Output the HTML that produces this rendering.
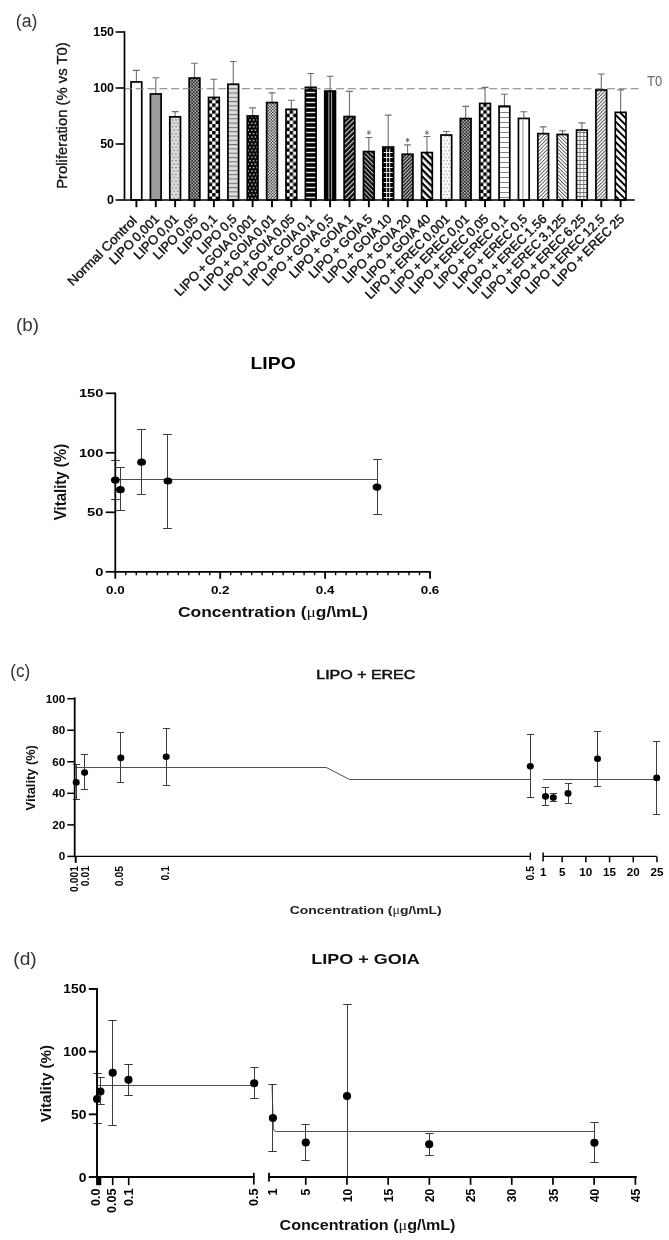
<!DOCTYPE html>
<html><head><meta charset="utf-8"><title>Figure</title>
<style>html,body{margin:0;padding:0;background:#fff;}body{width:669px;height:1240px;overflow:hidden;}svg{display:block;font-family:"Liberation Sans", sans-serif;filter:grayscale(1);}</style>
</head><body>
<svg width="669" height="1240" viewBox="0 0 669 1240">
<rect width="669" height="1240" fill="#fff"/>
<defs>
<pattern id="p2" x="-0.1" width="3.6" height="6.8" patternUnits="userSpaceOnUse"><rect width="3.6" height="6.8" fill="#dedede"/><rect x="0.3" y="0.9" width="1.3" height="1.3" fill="#6a6a6a"/><rect x="2.1" y="4.3" width="1.3" height="1.3" fill="#6a6a6a"/></pattern>
<pattern id="p3" width="3.2" height="3.2" patternUnits="userSpaceOnUse"><rect width="3.2" height="3.2" fill="#2a2a2a"/><rect x="0" y="0" width="1.5" height="1.5" fill="#bdbdbd"/><rect x="1.6" y="1.6" width="1.5" height="1.5" fill="#bdbdbd"/></pattern>
<pattern id="p4" x="-1.72" y="0" width="6.9" height="6.9" patternUnits="userSpaceOnUse"><rect width="6.9" height="6.9" fill="#fff"/><rect x="0" y="0" width="3.45" height="3.45" fill="#000"/><rect x="3.45" y="3.45" width="3.45" height="3.45" fill="#000"/></pattern>
<pattern id="p5" width="4.3" height="4.3" patternUnits="userSpaceOnUse"><rect width="4.3" height="4.3" fill="#dcdcdc"/><rect x="0" y="0" width="4.3" height="1" fill="#707070"/></pattern>
<pattern id="p6" width="3.6" height="6.8" patternUnits="userSpaceOnUse"><rect width="3.6" height="6.8" fill="#000"/><rect x="0.3" y="0.9" width="1.4" height="1.4" fill="#ececec"/><rect x="2.1" y="4.3" width="1.4" height="1.4" fill="#ececec"/></pattern>
<pattern id="p7" width="2.9" height="2.9" patternUnits="userSpaceOnUse"><rect width="2.9" height="2.9" fill="#222"/><rect x="0" y="0" width="1.6" height="1.6" fill="#f4f4f4"/><rect x="1.45" y="1.45" width="1.6" height="1.6" fill="#f4f4f4"/></pattern>
<pattern id="p9" width="5" height="5" patternUnits="userSpaceOnUse"><rect width="5" height="5" fill="#000"/><rect x="0" y="1.8" width="5" height="1.4" fill="#e8e8e8"/></pattern>
<pattern id="p11" width="3.6" height="3.6" patternUnits="userSpaceOnUse" patternTransform="rotate(-45)"><rect width="3.6" height="3.6" fill="#0a0a0a"/><rect x="0" y="0" width="3.6" height="1.15" fill="#cfcfcf"/></pattern>
<pattern id="p12" width="3.2" height="3.2" patternUnits="userSpaceOnUse" patternTransform="rotate(45)"><rect width="3.2" height="3.2" fill="#0a0a0a"/><rect x="0" y="0" width="3.2" height="1.05" fill="#c4c4c4"/></pattern>
<pattern id="p13" width="5" height="5" patternUnits="userSpaceOnUse"><rect width="5" height="5" fill="#000"/><rect x="0" y="2" width="5" height="1" fill="#f0f0f0"/></pattern>
<pattern id="p14" width="2.5" height="2.5" patternUnits="userSpaceOnUse" patternTransform="rotate(-45)"><rect width="2.5" height="2.5" fill="#111"/><rect x="0" y="0" width="2.5" height="1.15" fill="#cfcfcf"/></pattern>
<pattern id="p15" width="4.8" height="4.8" patternUnits="userSpaceOnUse" patternTransform="rotate(45)"><rect width="4.8" height="4.8" fill="#fff"/><rect x="0" y="0" width="4.8" height="2.3" fill="#000"/></pattern>
<pattern id="p16" width="3.6" height="6.8" patternUnits="userSpaceOnUse"><rect width="3.6" height="6.8" fill="#fff"/><rect x="0.3" y="0.9" width="1.2" height="1.2" fill="#808080"/><rect x="2.1" y="4.3" width="1.2" height="1.2" fill="#808080"/></pattern>
<pattern id="p19" width="5" height="5" patternUnits="userSpaceOnUse"><rect width="5" height="5" fill="#fff"/><rect x="0" y="2" width="5" height="0.9" fill="#777"/></pattern>
<pattern id="p21" width="2.55" height="2.55" patternUnits="userSpaceOnUse" patternTransform="rotate(-45)"><rect width="2.55" height="2.55" fill="#fff"/><rect x="0" y="0" width="2.55" height="0.85" fill="#555"/></pattern>
<pattern id="p22" width="2.55" height="2.55" patternUnits="userSpaceOnUse" patternTransform="rotate(45)"><rect width="2.55" height="2.55" fill="#fff"/><rect x="0" y="0" width="2.55" height="0.85" fill="#555"/></pattern>
<pattern id="p23" width="4" height="4" patternUnits="userSpaceOnUse"><rect width="4" height="4" fill="#fff"/><rect x="0" y="0" width="4" height="0.9" fill="#666"/></pattern>
<pattern id="p24" width="2.5" height="2.5" patternUnits="userSpaceOnUse" patternTransform="rotate(-45)"><rect width="2.5" height="2.5" fill="#fff"/><rect x="0" y="0" width="2.5" height="1.0" fill="#555"/></pattern>
<pattern id="p25" width="4.8" height="4.8" patternUnits="userSpaceOnUse" patternTransform="rotate(45)"><rect width="4.8" height="4.8" fill="#fff"/><rect x="0" y="0" width="4.8" height="1.9" fill="#000"/></pattern>
</defs>
<text transform="translate(15.80 26.60)" font-size="18" font-weight="normal" text-anchor="start" fill="#333" textLength="21.60" lengthAdjust="spacingAndGlyphs" >(a)</text>
<path d="M136.40 81.95V70.40M133.00 70.40H139.80" stroke="#6e6e6e" stroke-width="1.1" fill="none"/>
<g transform="translate(136.40 200.0)">
<rect x="-5.35" y="-118.05" width="10.7" height="118.05" fill="#fff" stroke="#000" stroke-width="1.7"/>
</g>
<path d="M136.40 200.0V207.2" stroke="#000" stroke-width="1.9"/>
<text transform="translate(137.70 221.50) rotate(-45)" font-size="12.9" font-weight="normal" text-anchor="end" fill="#111" textLength="92.00" lengthAdjust="spacingAndGlyphs" stroke="#111" stroke-width="0.4">Normal Control</text>
<path d="M155.77 93.95V77.80M152.37 77.80H159.17" stroke="#6e6e6e" stroke-width="1.1" fill="none"/>
<g transform="translate(155.77 200.0)">
<rect x="-5.35" y="-106.05" width="10.7" height="106.05" fill="#9b9b9b" stroke="#000" stroke-width="1.7"/>
</g>
<path d="M155.77 200.0V207.2" stroke="#000" stroke-width="1.9"/>
<text transform="translate(160.07 219.70) rotate(-45)" font-size="12.9" font-weight="normal" text-anchor="end" fill="#111" stroke="#111" stroke-width="0.4" word-spacing="-0.8">LIPO 0,001</text>
<path d="M175.14 116.85V111.60M171.74 111.60H178.54" stroke="#6e6e6e" stroke-width="1.1" fill="none"/>
<g transform="translate(175.14 200.0)">
<rect x="-5.35" y="-83.15" width="10.7" height="83.15" fill="url(#p2)" stroke="#000" stroke-width="1.7"/>
</g>
<path d="M175.14 200.0V207.2" stroke="#000" stroke-width="1.9"/>
<text transform="translate(179.44 219.70) rotate(-45)" font-size="12.9" font-weight="normal" text-anchor="end" fill="#111" stroke="#111" stroke-width="0.4" word-spacing="-0.8">LIPO 0,01</text>
<path d="M194.51 78.05V63.20M191.11 63.20H197.91" stroke="#6e6e6e" stroke-width="1.1" fill="none"/>
<g transform="translate(194.51 200.0)">
<rect x="-5.35" y="-121.95" width="10.7" height="121.95" fill="url(#p3)" stroke="#000" stroke-width="1.7"/>
</g>
<path d="M194.51 200.0V207.2" stroke="#000" stroke-width="1.9"/>
<text transform="translate(198.81 219.70) rotate(-45)" font-size="12.9" font-weight="normal" text-anchor="end" fill="#111" stroke="#111" stroke-width="0.4" word-spacing="-0.8">LIPO 0,05</text>
<path d="M213.88 97.45V79.30M210.48 79.30H217.28" stroke="#6e6e6e" stroke-width="1.1" fill="none"/>
<g transform="translate(213.88 200.0)">
<rect x="-5.35" y="-102.55" width="10.7" height="102.55" fill="url(#p4)" stroke="#000" stroke-width="1.7"/>
</g>
<path d="M213.88 200.0V207.2" stroke="#000" stroke-width="1.9"/>
<text transform="translate(218.18 219.70) rotate(-45)" font-size="12.9" font-weight="normal" text-anchor="end" fill="#111" stroke="#111" stroke-width="0.4" word-spacing="-0.8">LIPO 0,1</text>
<path d="M233.25 84.25V61.50M229.85 61.50H236.65" stroke="#6e6e6e" stroke-width="1.1" fill="none"/>
<g transform="translate(233.25 200.0)">
<rect x="-5.35" y="-115.75" width="10.7" height="115.75" fill="url(#p5)" stroke="#000" stroke-width="1.7"/>
</g>
<path d="M233.25 200.0V207.2" stroke="#000" stroke-width="1.9"/>
<text transform="translate(237.55 219.70) rotate(-45)" font-size="12.9" font-weight="normal" text-anchor="end" fill="#111" stroke="#111" stroke-width="0.4" word-spacing="-0.8">LIPO 0,5</text>
<path d="M252.62 115.95V107.90M249.22 107.90H256.02" stroke="#6e6e6e" stroke-width="1.1" fill="none"/>
<g transform="translate(252.62 200.0)">
<rect x="-5.35" y="-84.05" width="10.7" height="84.05" fill="url(#p6)" stroke="#000" stroke-width="1.7"/>
</g>
<path d="M252.62 200.0V207.2" stroke="#000" stroke-width="1.9"/>
<text transform="translate(256.92 219.70) rotate(-45)" font-size="12.9" font-weight="normal" text-anchor="end" fill="#111" stroke="#111" stroke-width="0.4" word-spacing="-0.8">LIPO + GOIA 0,001</text>
<path d="M271.99 102.55V92.90M268.59 92.90H275.39" stroke="#6e6e6e" stroke-width="1.1" fill="none"/>
<g transform="translate(271.99 200.0)">
<rect x="-5.35" y="-97.45" width="10.7" height="97.45" fill="url(#p7)" stroke="#000" stroke-width="1.7"/>
</g>
<path d="M271.99 200.0V207.2" stroke="#000" stroke-width="1.9"/>
<text transform="translate(276.29 219.70) rotate(-45)" font-size="12.9" font-weight="normal" text-anchor="end" fill="#111" stroke="#111" stroke-width="0.4" word-spacing="-0.8">LIPO + GOIA 0,01</text>
<path d="M291.36 109.35V100.30M287.96 100.30H294.76" stroke="#6e6e6e" stroke-width="1.1" fill="none"/>
<g transform="translate(291.36 200.0)">
<rect x="-5.35" y="-90.65" width="10.7" height="90.65" fill="url(#p4)" stroke="#000" stroke-width="1.7"/>
</g>
<path d="M291.36 200.0V207.2" stroke="#000" stroke-width="1.9"/>
<text transform="translate(295.66 219.70) rotate(-45)" font-size="12.9" font-weight="normal" text-anchor="end" fill="#111" stroke="#111" stroke-width="0.4" word-spacing="-0.8">LIPO + GOIA 0,05</text>
<path d="M310.73 87.35V73.50M307.33 73.50H314.13" stroke="#6e6e6e" stroke-width="1.1" fill="none"/>
<g transform="translate(310.73 200.0)">
<rect x="-5.35" y="-112.65" width="10.7" height="112.65" fill="url(#p9)" stroke="#000" stroke-width="1.7"/>
</g>
<path d="M310.73 200.0V207.2" stroke="#000" stroke-width="1.9"/>
<text transform="translate(315.03 219.70) rotate(-45)" font-size="12.9" font-weight="normal" text-anchor="end" fill="#111" stroke="#111" stroke-width="0.4" word-spacing="-0.8">LIPO + GOIA 0,1</text>
<path d="M330.10 91.05V76.20M326.70 76.20H333.50" stroke="#6e6e6e" stroke-width="1.1" fill="none"/>
<g transform="translate(330.10 200.0)">
<rect x="-5.35" y="-108.95" width="10.7" height="108.95" fill="#000" stroke="#000" stroke-width="1.7"/>
<path d="M-1.2 -107.95V0M1.5 -107.95V0" stroke="#c4c4c4" stroke-width="0.9" fill="none"/>
</g>
<path d="M330.10 200.0V207.2" stroke="#000" stroke-width="1.9"/>
<text transform="translate(334.40 219.70) rotate(-45)" font-size="12.9" font-weight="normal" text-anchor="end" fill="#111" stroke="#111" stroke-width="0.4" word-spacing="-0.8">LIPO + GOIA 0,5</text>
<path d="M349.47 116.55V91.40M346.07 91.40H352.87" stroke="#6e6e6e" stroke-width="1.1" fill="none"/>
<g transform="translate(349.47 200.0)">
<rect x="-5.35" y="-83.45" width="10.7" height="83.45" fill="url(#p11)" stroke="#000" stroke-width="1.7"/>
</g>
<path d="M349.47 200.0V207.2" stroke="#000" stroke-width="1.9"/>
<text transform="translate(353.77 219.70) rotate(-45)" font-size="12.9" font-weight="normal" text-anchor="end" fill="#111" stroke="#111" stroke-width="0.4" word-spacing="-0.8">LIPO + GOIA 1</text>
<path d="M368.84 151.55V137.50M365.44 137.50H372.24" stroke="#6e6e6e" stroke-width="1.1" fill="none"/>
<g transform="translate(368.84 200.0)">
<rect x="-5.35" y="-48.45" width="10.7" height="48.45" fill="url(#p12)" stroke="#000" stroke-width="1.7"/>
</g>
<path d="M368.84 200.0V207.2" stroke="#000" stroke-width="1.9"/>
<text transform="translate(373.14 219.70) rotate(-45)" font-size="12.9" font-weight="normal" text-anchor="end" fill="#111" stroke="#111" stroke-width="0.4" word-spacing="-0.8">LIPO + GOIA 5</text>
<path d="M388.21 147.05V115.10M384.81 115.10H391.61" stroke="#6e6e6e" stroke-width="1.1" fill="none"/>
<g transform="translate(388.21 200.0)">
<rect x="-5.35" y="-52.95" width="10.7" height="52.95" fill="url(#p13)" stroke="#000" stroke-width="1.7"/>
<path d="M-1.5 -51.45V0M1.5 -51.45V0" stroke="#f0f0f0" stroke-width="1" fill="none"/>
</g>
<path d="M388.21 200.0V207.2" stroke="#000" stroke-width="1.9"/>
<text transform="translate(392.51 219.70) rotate(-45)" font-size="12.9" font-weight="normal" text-anchor="end" fill="#111" stroke="#111" stroke-width="0.4" word-spacing="-0.8">LIPO + GOIA 10</text>
<path d="M407.58 154.25V144.90M404.18 144.90H410.98" stroke="#6e6e6e" stroke-width="1.1" fill="none"/>
<g transform="translate(407.58 200.0)">
<rect x="-5.35" y="-45.75" width="10.7" height="45.75" fill="url(#p14)" stroke="#000" stroke-width="1.7"/>
</g>
<path d="M407.58 200.0V207.2" stroke="#000" stroke-width="1.9"/>
<text transform="translate(411.88 219.70) rotate(-45)" font-size="12.9" font-weight="normal" text-anchor="end" fill="#111" stroke="#111" stroke-width="0.4" word-spacing="-0.8">LIPO + GOIA 20</text>
<path d="M426.95 152.55V136.50M423.55 136.50H430.35" stroke="#6e6e6e" stroke-width="1.1" fill="none"/>
<g transform="translate(426.95 200.0)">
<rect x="-5.35" y="-47.45" width="10.7" height="47.45" fill="url(#p15)" stroke="#000" stroke-width="1.7"/>
</g>
<path d="M426.95 200.0V207.2" stroke="#000" stroke-width="1.9"/>
<text transform="translate(431.25 219.70) rotate(-45)" font-size="12.9" font-weight="normal" text-anchor="end" fill="#111" stroke="#111" stroke-width="0.4" word-spacing="-0.8">LIPO + GOIA 40</text>
<path d="M446.32 135.05V131.50M442.92 131.50H449.72" stroke="#6e6e6e" stroke-width="1.1" fill="none"/>
<g transform="translate(446.32 200.0)">
<rect x="-5.35" y="-64.95" width="10.7" height="64.95" fill="url(#p16)" stroke="#000" stroke-width="1.7"/>
</g>
<path d="M446.32 200.0V207.2" stroke="#000" stroke-width="1.9"/>
<text transform="translate(450.62 219.70) rotate(-45)" font-size="12.9" font-weight="normal" text-anchor="end" fill="#111" stroke="#111" stroke-width="0.4" word-spacing="-0.8">LIPO + EREC 0,001</text>
<path d="M465.69 118.55V106.40M462.29 106.40H469.09" stroke="#6e6e6e" stroke-width="1.1" fill="none"/>
<g transform="translate(465.69 200.0)">
<rect x="-5.35" y="-81.45" width="10.7" height="81.45" fill="url(#p3)" stroke="#000" stroke-width="1.7"/>
</g>
<path d="M465.69 200.0V207.2" stroke="#000" stroke-width="1.9"/>
<text transform="translate(469.99 219.70) rotate(-45)" font-size="12.9" font-weight="normal" text-anchor="end" fill="#111" stroke="#111" stroke-width="0.4" word-spacing="-0.8">LIPO + EREC 0,01</text>
<path d="M485.06 103.45V87.40M481.66 87.40H488.46" stroke="#6e6e6e" stroke-width="1.1" fill="none"/>
<g transform="translate(485.06 200.0)">
<rect x="-5.35" y="-96.55" width="10.7" height="96.55" fill="url(#p4)" stroke="#000" stroke-width="1.7"/>
</g>
<path d="M485.06 200.0V207.2" stroke="#000" stroke-width="1.9"/>
<text transform="translate(489.36 219.70) rotate(-45)" font-size="12.9" font-weight="normal" text-anchor="end" fill="#111" stroke="#111" stroke-width="0.4" word-spacing="-0.8">LIPO + EREC 0,05</text>
<path d="M504.43 106.15V94.30M501.03 94.30H507.83" stroke="#6e6e6e" stroke-width="1.1" fill="none"/>
<g transform="translate(504.43 200.0)">
<rect x="-5.35" y="-93.85" width="10.7" height="93.85" fill="url(#p19)" stroke="#000" stroke-width="1.7"/>
</g>
<path d="M504.43 200.0V207.2" stroke="#000" stroke-width="1.9"/>
<text transform="translate(508.73 219.70) rotate(-45)" font-size="12.9" font-weight="normal" text-anchor="end" fill="#111" stroke="#111" stroke-width="0.4" word-spacing="-0.8">LIPO + EREC 0,1</text>
<path d="M523.80 118.45V111.70M520.40 111.70H527.20" stroke="#6e6e6e" stroke-width="1.1" fill="none"/>
<g transform="translate(523.80 200.0)">
<rect x="-5.35" y="-81.55" width="10.7" height="81.55" fill="#fff" stroke="#000" stroke-width="1.7"/>
<path d="M-0.9 -81.55V0" stroke="#888" stroke-width="0.9" fill="none"/>
</g>
<path d="M523.80 200.0V207.2" stroke="#000" stroke-width="1.9"/>
<text transform="translate(528.10 219.70) rotate(-45)" font-size="12.9" font-weight="normal" text-anchor="end" fill="#111" stroke="#111" stroke-width="0.4" word-spacing="-0.8">LIPO + EREC 0,5</text>
<path d="M543.17 133.65V126.90M539.77 126.90H546.57" stroke="#6e6e6e" stroke-width="1.1" fill="none"/>
<g transform="translate(543.17 200.0)">
<rect x="-5.35" y="-66.35" width="10.7" height="66.35" fill="url(#p21)" stroke="#000" stroke-width="1.7"/>
</g>
<path d="M543.17 200.0V207.2" stroke="#000" stroke-width="1.9"/>
<text transform="translate(547.47 219.70) rotate(-45)" font-size="12.9" font-weight="normal" text-anchor="end" fill="#111" stroke="#111" stroke-width="0.4" word-spacing="-0.8">LIPO + EREC 1.56</text>
<path d="M562.54 134.45V130.80M559.14 130.80H565.94" stroke="#6e6e6e" stroke-width="1.1" fill="none"/>
<g transform="translate(562.54 200.0)">
<rect x="-5.35" y="-65.55" width="10.7" height="65.55" fill="url(#p22)" stroke="#000" stroke-width="1.7"/>
</g>
<path d="M562.54 200.0V207.2" stroke="#000" stroke-width="1.9"/>
<text transform="translate(566.84 219.70) rotate(-45)" font-size="12.9" font-weight="normal" text-anchor="end" fill="#111" stroke="#111" stroke-width="0.4" word-spacing="-0.8">LIPO + EREC 3.125</text>
<path d="M581.91 130.05V122.90M578.51 122.90H585.31" stroke="#6e6e6e" stroke-width="1.1" fill="none"/>
<g transform="translate(581.91 200.0)">
<rect x="-5.35" y="-69.95" width="10.7" height="69.95" fill="url(#p23)" stroke="#000" stroke-width="1.7"/>
<path d="M-1.9 -69.95V0M1.9 -69.95V0" stroke="#666" stroke-width="0.9" fill="none"/>
</g>
<path d="M581.91 200.0V207.2" stroke="#000" stroke-width="1.9"/>
<text transform="translate(586.21 219.70) rotate(-45)" font-size="12.9" font-weight="normal" text-anchor="end" fill="#111" stroke="#111" stroke-width="0.4" word-spacing="-0.8">LIPO + EREC 6.25</text>
<path d="M601.28 89.95V74.00M597.88 74.00H604.68" stroke="#6e6e6e" stroke-width="1.1" fill="none"/>
<g transform="translate(601.28 200.0)">
<rect x="-5.35" y="-110.05" width="10.7" height="110.05" fill="url(#p24)" stroke="#000" stroke-width="1.7"/>
</g>
<path d="M601.28 200.0V207.2" stroke="#000" stroke-width="1.9"/>
<text transform="translate(605.58 219.70) rotate(-45)" font-size="12.9" font-weight="normal" text-anchor="end" fill="#111" stroke="#111" stroke-width="0.4" word-spacing="-0.8">LIPO + EREC 12.5</text>
<path d="M620.65 112.35V89.90M617.25 89.90H624.05" stroke="#6e6e6e" stroke-width="1.1" fill="none"/>
<g transform="translate(620.65 200.0)">
<rect x="-5.35" y="-87.65" width="10.7" height="87.65" fill="url(#p25)" stroke="#000" stroke-width="1.7"/>
</g>
<path d="M620.65 200.0V207.2" stroke="#000" stroke-width="1.9"/>
<text transform="translate(624.95 219.70) rotate(-45)" font-size="12.9" font-weight="normal" text-anchor="end" fill="#111" stroke="#111" stroke-width="0.4" word-spacing="-0.8">LIPO + EREC 25</text>
<path d="M368.84 130.40L368.84 134.80M370.75 131.50L366.93 133.70M370.75 133.70L366.93 131.50" stroke="#555" stroke-width="0.8" fill="none"/>
<path d="M407.58 138.00L407.58 142.40M409.49 139.10L405.67 141.30M409.49 141.30L405.67 139.10" stroke="#555" stroke-width="0.8" fill="none"/>
<path d="M426.95 130.40L426.95 134.80M428.86 131.50L425.04 133.70M428.86 133.70L425.04 131.50" stroke="#555" stroke-width="0.8" fill="none"/>
<path d="M124.04 88.75H638.6" stroke="#7d7d7d" stroke-width="1.2" stroke-dasharray="8 3.78" fill="none"/>
<text transform="translate(647.00 86.30)" font-size="14" font-weight="normal" text-anchor="start" fill="#666" textLength="15.20" lengthAdjust="spacingAndGlyphs" >T0</text>
<path d="M124.5 31.2V200.0M123.7 200.0H634.8" stroke="#000" stroke-width="1.7" fill="none"/>
<path d="M115.6 32H124.5" stroke="#000" stroke-width="1.6"/>
<text transform="translate(114.00 36.30)" font-size="12.4" font-weight="bold" text-anchor="end" fill="#000" >150</text>
<path d="M115.6 88H124.5" stroke="#000" stroke-width="1.6"/>
<text transform="translate(114.00 92.30)" font-size="12.4" font-weight="bold" text-anchor="end" fill="#000" >100</text>
<path d="M115.6 144H124.5" stroke="#000" stroke-width="1.6"/>
<text transform="translate(114.00 148.30)" font-size="12.4" font-weight="bold" text-anchor="end" fill="#000" >50</text>
<path d="M115.6 200H124.5" stroke="#000" stroke-width="1.6"/>
<text transform="translate(114.00 204.30)" font-size="12.4" font-weight="bold" text-anchor="end" fill="#000" >0</text>
<text transform="translate(67.00 115.50) rotate(-90)" font-size="14.2" font-weight="normal" text-anchor="middle" fill="#111" textLength="146.60" lengthAdjust="spacingAndGlyphs" stroke="#111" stroke-width="0.3">Proliferation (% vs T0)</text>
<text transform="translate(15.90 330.60)" font-size="18" font-weight="normal" text-anchor="start" fill="#333" textLength="23.00" lengthAdjust="spacingAndGlyphs" >(b)</text>
<text transform="translate(273.10 369.10)" font-size="16.3" font-weight="bold" text-anchor="middle" fill="#000" textLength="45.20" lengthAdjust="spacingAndGlyphs" >LIPO</text>
<path d="M115.3 479.5H377.3" stroke="#3c3c3c" stroke-width="0.9" fill="none"/>
<path d="M115.50 460.50V499.50M111.10 460.50H119.90M111.10 499.50H119.90" stroke="#3c3c3c" stroke-width="1.0" fill="none"/>
<ellipse cx="115.30" cy="480.10" rx="4.4" ry="3.6" fill="#000"/>
<path d="M120.50 467.50V510.50M116.10 467.50H124.90M116.10 510.50H124.90" stroke="#3c3c3c" stroke-width="1.0" fill="none"/>
<ellipse cx="120.40" cy="489.70" rx="4.4" ry="3.6" fill="#000"/>
<path d="M141.50 429.50V494.50M137.10 429.50H145.90M137.10 494.50H145.90" stroke="#3c3c3c" stroke-width="1.0" fill="none"/>
<ellipse cx="141.60" cy="462.20" rx="4.4" ry="3.6" fill="#000"/>
<path d="M167.50 434.50V528.50M163.10 434.50H171.90M163.10 528.50H171.90" stroke="#3c3c3c" stroke-width="1.0" fill="none"/>
<ellipse cx="167.90" cy="481.00" rx="4.4" ry="3.6" fill="#000"/>
<path d="M377.50 459.50V514.50M373.10 459.50H381.90M373.10 514.50H381.90" stroke="#3c3c3c" stroke-width="1.0" fill="none"/>
<ellipse cx="377.00" cy="487.10" rx="4.4" ry="3.6" fill="#000"/>
<path d="M115.3 392.4V571.8M114.39999999999999 571.8H430.8" stroke="#000" stroke-width="1.8" fill="none"/>
<path d="M105.7 571.80H115.3" stroke="#000" stroke-width="1.7"/>
<text transform="translate(103.40 575.80) scale(1.3 1)" font-size="11.3" font-weight="bold" text-anchor="end" fill="#000" >0</text>
<path d="M105.7 512.30H115.3" stroke="#000" stroke-width="1.7"/>
<text transform="translate(103.40 516.30) scale(1.3 1)" font-size="11.3" font-weight="bold" text-anchor="end" fill="#000" >50</text>
<path d="M105.7 452.80H115.3" stroke="#000" stroke-width="1.7"/>
<text transform="translate(103.40 456.80) scale(1.3 1)" font-size="11.3" font-weight="bold" text-anchor="end" fill="#000" >100</text>
<path d="M105.7 393.30H115.3" stroke="#000" stroke-width="1.7"/>
<text transform="translate(103.40 397.30) scale(1.3 1)" font-size="11.3" font-weight="bold" text-anchor="end" fill="#000" >150</text>
<path d="M115.30 571.8V578.8" stroke="#000" stroke-width="1.8"/>
<text transform="translate(115.30 594.20) scale(1.22 1)" font-size="11" font-weight="bold" text-anchor="middle" fill="#000" >0.0</text>
<path d="M125.79 571.8V575.2" stroke="#000" stroke-width="1.4"/>
<path d="M136.28 571.8V575.2" stroke="#000" stroke-width="1.4"/>
<path d="M146.77 571.8V575.2" stroke="#000" stroke-width="1.4"/>
<path d="M157.26 571.8V575.2" stroke="#000" stroke-width="1.4"/>
<path d="M167.75 571.8V575.2" stroke="#000" stroke-width="1.4"/>
<path d="M178.24 571.8V575.2" stroke="#000" stroke-width="1.4"/>
<path d="M188.73 571.8V575.2" stroke="#000" stroke-width="1.4"/>
<path d="M199.22 571.8V575.2" stroke="#000" stroke-width="1.4"/>
<path d="M209.71 571.8V575.2" stroke="#000" stroke-width="1.4"/>
<path d="M220.20 571.8V578.8" stroke="#000" stroke-width="1.8"/>
<text transform="translate(220.20 594.20) scale(1.22 1)" font-size="11" font-weight="bold" text-anchor="middle" fill="#000" >0.2</text>
<path d="M230.69 571.8V575.2" stroke="#000" stroke-width="1.4"/>
<path d="M241.18 571.8V575.2" stroke="#000" stroke-width="1.4"/>
<path d="M251.67 571.8V575.2" stroke="#000" stroke-width="1.4"/>
<path d="M262.16 571.8V575.2" stroke="#000" stroke-width="1.4"/>
<path d="M272.65 571.8V575.2" stroke="#000" stroke-width="1.4"/>
<path d="M283.14 571.8V575.2" stroke="#000" stroke-width="1.4"/>
<path d="M293.63 571.8V575.2" stroke="#000" stroke-width="1.4"/>
<path d="M304.12 571.8V575.2" stroke="#000" stroke-width="1.4"/>
<path d="M314.61 571.8V575.2" stroke="#000" stroke-width="1.4"/>
<path d="M325.10 571.8V578.8" stroke="#000" stroke-width="1.8"/>
<text transform="translate(325.10 594.20) scale(1.22 1)" font-size="11" font-weight="bold" text-anchor="middle" fill="#000" >0.4</text>
<path d="M335.59 571.8V575.2" stroke="#000" stroke-width="1.4"/>
<path d="M346.08 571.8V575.2" stroke="#000" stroke-width="1.4"/>
<path d="M356.57 571.8V575.2" stroke="#000" stroke-width="1.4"/>
<path d="M367.06 571.8V575.2" stroke="#000" stroke-width="1.4"/>
<path d="M377.55 571.8V575.2" stroke="#000" stroke-width="1.4"/>
<path d="M388.04 571.8V575.2" stroke="#000" stroke-width="1.4"/>
<path d="M398.53 571.8V575.2" stroke="#000" stroke-width="1.4"/>
<path d="M409.02 571.8V575.2" stroke="#000" stroke-width="1.4"/>
<path d="M419.51 571.8V575.2" stroke="#000" stroke-width="1.4"/>
<path d="M430.00 571.8V578.8" stroke="#000" stroke-width="1.8"/>
<text transform="translate(430.00 594.20) scale(1.22 1)" font-size="11" font-weight="bold" text-anchor="middle" fill="#000" >0.6</text>
<text transform="translate(273.00 617.00)" font-size="14" font-weight="bold" text-anchor="middle" fill="#111" textLength="190.00" lengthAdjust="spacingAndGlyphs" >Concentration (<tspan font-family='"Liberation Serif", serif' font-weight="normal">μ</tspan>g/\mL)</text>
<text transform="translate(66.20 482.00) rotate(-90) scale(1.0 1.13)" font-size="15" font-weight="bold" text-anchor="middle" fill="#111" >Vitality (%)</text>
<text transform="translate(10.30 676.80)" font-size="18" font-weight="normal" text-anchor="start" fill="#333" textLength="20.00" lengthAdjust="spacingAndGlyphs" >(c)</text>
<text transform="translate(365.80 678.50)" font-size="13.6" font-weight="normal" text-anchor="middle" fill="#111" textLength="99.00" lengthAdjust="spacingAndGlyphs" stroke="#111" stroke-width="0.55">LIPO + EREC</text>
<path d="M75.3 767.5H326.3L349.6 779.5H530.3M543.1 779.5H656.7" stroke="#3c3c3c" stroke-width="0.9" fill="none"/>
<path d="M76.50 764.50V799.50M72.90 764.50H80.10M72.90 799.50H80.10" stroke="#3c3c3c" stroke-width="1.0" fill="none"/>
<ellipse cx="76.20" cy="782.40" rx="3.5" ry="3.3" fill="#000"/>
<path d="M84.50 754.50V789.50M80.90 754.50H88.10M80.90 789.50H88.10" stroke="#3c3c3c" stroke-width="1.0" fill="none"/>
<ellipse cx="84.60" cy="772.60" rx="3.5" ry="3.3" fill="#000"/>
<path d="M120.50 732.50V782.50M116.90 732.50H124.10M116.90 782.50H124.10" stroke="#3c3c3c" stroke-width="1.0" fill="none"/>
<ellipse cx="120.80" cy="757.90" rx="3.5" ry="3.3" fill="#000"/>
<path d="M166.50 728.50V785.50M162.90 728.50H170.10M162.90 785.50H170.10" stroke="#3c3c3c" stroke-width="1.0" fill="none"/>
<ellipse cx="166.20" cy="756.70" rx="3.5" ry="3.3" fill="#000"/>
<path d="M530.50 734.50V797.50M526.90 734.50H534.10M526.90 797.50H534.10" stroke="#3c3c3c" stroke-width="1.0" fill="none"/>
<ellipse cx="530.30" cy="766.20" rx="3.5" ry="3.3" fill="#000"/>
<path d="M545.50 787.50V805.50M541.90 787.50H549.10M541.90 805.50H549.10" stroke="#3c3c3c" stroke-width="1.0" fill="none"/>
<ellipse cx="545.50" cy="796.40" rx="3.5" ry="3.3" fill="#000"/>
<path d="M553.50 793.50V801.50M549.90 793.50H557.10M549.90 801.50H557.10" stroke="#3c3c3c" stroke-width="1.0" fill="none"/>
<ellipse cx="553.30" cy="797.60" rx="3.5" ry="3.3" fill="#000"/>
<path d="M568.50 783.50V803.50M564.90 783.50H572.10M564.90 803.50H572.10" stroke="#3c3c3c" stroke-width="1.0" fill="none"/>
<ellipse cx="568.00" cy="793.40" rx="3.5" ry="3.3" fill="#000"/>
<path d="M597.50 731.50V786.50M593.90 731.50H601.10M593.90 786.50H601.10" stroke="#3c3c3c" stroke-width="1.0" fill="none"/>
<ellipse cx="597.50" cy="758.80" rx="3.5" ry="3.3" fill="#000"/>
<path d="M656.50 741.50V814.50M652.90 741.50H660.10M652.90 814.50H660.10" stroke="#3c3c3c" stroke-width="1.0" fill="none"/>
<ellipse cx="656.70" cy="777.90" rx="3.5" ry="3.3" fill="#000"/>
<path d="M74.7 697.4V856.4" stroke="#000" stroke-width="1.8" fill="none"/>
<path d="M73.8 856.4H530.3M543.1 856.4H656.7" stroke="#000" stroke-width="1.2" fill="none"/>
<path d="M67.3 856.40H74.7" stroke="#000" stroke-width="1.5"/>
<text transform="translate(65.20 860.20) scale(1.08 1)" font-size="10.8" font-weight="bold" text-anchor="end" fill="#000" >0</text>
<path d="M67.3 824.86H74.7" stroke="#000" stroke-width="1.5"/>
<text transform="translate(65.20 828.66) scale(1.08 1)" font-size="10.8" font-weight="bold" text-anchor="end" fill="#000" >20</text>
<path d="M67.3 793.32H74.7" stroke="#000" stroke-width="1.5"/>
<text transform="translate(65.20 797.12) scale(1.08 1)" font-size="10.8" font-weight="bold" text-anchor="end" fill="#000" >40</text>
<path d="M67.3 761.78H74.7" stroke="#000" stroke-width="1.5"/>
<text transform="translate(65.20 765.58) scale(1.08 1)" font-size="10.8" font-weight="bold" text-anchor="end" fill="#000" >60</text>
<path d="M67.3 730.24H74.7" stroke="#000" stroke-width="1.5"/>
<text transform="translate(65.20 734.04) scale(1.08 1)" font-size="10.8" font-weight="bold" text-anchor="end" fill="#000" >80</text>
<path d="M67.3 698.70H74.7" stroke="#000" stroke-width="1.5"/>
<text transform="translate(65.20 702.50) scale(1.08 1)" font-size="10.8" font-weight="bold" text-anchor="end" fill="#000" >100</text>
<path d="M75.7 856.4V862.8" stroke="#000" stroke-width="2"/>
<path d="M530.3 852.4V860" stroke="#000" stroke-width="1.3"/>
<path d="M543.1 852.4V861.6" stroke="#000" stroke-width="1.5"/>
<path d="M562.16 856.4V862.3" stroke="#000" stroke-width="1.5"/>
<path d="M585.86 856.4V862.3" stroke="#000" stroke-width="1.5"/>
<path d="M609.56 856.4V862.3" stroke="#000" stroke-width="1.5"/>
<path d="M633.26 856.4V862.3" stroke="#000" stroke-width="1.5"/>
<path d="M656.96 856.4V862.3" stroke="#000" stroke-width="1.5"/>
<text transform="translate(543.20 876.40) scale(1.08 1)" font-size="10.8" font-weight="bold" text-anchor="middle" fill="#000" >1</text>
<text transform="translate(562.16 876.40) scale(1.08 1)" font-size="10.8" font-weight="bold" text-anchor="middle" fill="#000" >5</text>
<text transform="translate(585.86 876.40) scale(1.08 1)" font-size="10.8" font-weight="bold" text-anchor="middle" fill="#000" >10</text>
<text transform="translate(609.56 876.40) scale(1.08 1)" font-size="10.8" font-weight="bold" text-anchor="middle" fill="#000" >15</text>
<text transform="translate(633.26 876.40) scale(1.08 1)" font-size="10.8" font-weight="bold" text-anchor="middle" fill="#000" >20</text>
<text transform="translate(656.96 876.40) scale(1.08 1)" font-size="10.8" font-weight="bold" text-anchor="middle" fill="#000" >25</text>
<text transform="translate(78.20 866.00) rotate(-90)" font-size="10.4" font-weight="bold" text-anchor="end" fill="#000" >0.001</text>
<text transform="translate(88.70 866.00) rotate(-90)" font-size="10.4" font-weight="bold" text-anchor="end" fill="#000" >0.01</text>
<text transform="translate(123.10 866.00) rotate(-90)" font-size="10.4" font-weight="bold" text-anchor="end" fill="#000" >0.05</text>
<text transform="translate(169.40 866.00) rotate(-90)" font-size="10.4" font-weight="bold" text-anchor="end" fill="#000" >0.1</text>
<text transform="translate(533.80 866.00) rotate(-90)" font-size="10.4" font-weight="bold" text-anchor="end" fill="#000" >0.5</text>
<text transform="translate(365.70 913.60)" font-size="11.8" font-weight="bold" text-anchor="middle" fill="#222" textLength="152.00" lengthAdjust="spacingAndGlyphs" >Concentration (<tspan font-family='"Liberation Serif", serif' font-weight="normal">μ</tspan>g/\mL)</text>
<text transform="translate(35.20 777.80) rotate(-90)" font-size="12.8" font-weight="bold" text-anchor="middle" fill="#111" >Vitality (%)</text>
<text transform="translate(13.30 965.20)" font-size="18" font-weight="normal" text-anchor="start" fill="#333" textLength="23.40" lengthAdjust="spacingAndGlyphs" >(d)</text>
<text transform="translate(365.60 964.00)" font-size="15" font-weight="bold" text-anchor="middle" fill="#111" textLength="108.50" lengthAdjust="spacingAndGlyphs" >LIPO + GOIA</text>
<path d="M97.0 1085.5H254.3M272.0 1084.5L273.4 1128.5Q273.6 1131.5 276.2 1131.5H594.4" stroke="#3c3c3c" stroke-width="0.9" fill="none"/>
<path d="M97.50 1073.50V1123.50M93.30 1073.50H101.70M93.30 1123.50H101.70" stroke="#3c3c3c" stroke-width="1.0" fill="none"/>
<ellipse cx="97.10" cy="1098.90" rx="4.1" ry="4.0" fill="#000"/>
<path d="M100.50 1077.50V1104.50M96.30 1077.50H104.70M96.30 1104.50H104.70" stroke="#3c3c3c" stroke-width="1.0" fill="none"/>
<ellipse cx="100.40" cy="1091.40" rx="4.1" ry="4.0" fill="#000"/>
<path d="M112.50 1020.50V1125.50M108.30 1020.50H116.70M108.30 1125.50H116.70" stroke="#3c3c3c" stroke-width="1.0" fill="none"/>
<ellipse cx="112.70" cy="1072.80" rx="4.1" ry="4.0" fill="#000"/>
<path d="M128.50 1064.50V1095.50M124.30 1064.50H132.70M124.30 1095.50H132.70" stroke="#3c3c3c" stroke-width="1.0" fill="none"/>
<ellipse cx="128.50" cy="1079.80" rx="4.1" ry="4.0" fill="#000"/>
<path d="M254.50 1067.50V1098.50M250.30 1067.50H258.70M250.30 1098.50H258.70" stroke="#3c3c3c" stroke-width="1.0" fill="none"/>
<ellipse cx="254.20" cy="1083.20" rx="4.1" ry="4.0" fill="#000"/>
<path d="M272.50 1084.50V1151.50M268.30 1084.50H276.70M268.30 1151.50H276.70" stroke="#3c3c3c" stroke-width="1.0" fill="none"/>
<ellipse cx="272.90" cy="1118.00" rx="4.1" ry="4.0" fill="#000"/>
<path d="M305.50 1124.50V1160.50M301.30 1124.50H309.70M301.30 1160.50H309.70" stroke="#3c3c3c" stroke-width="1.0" fill="none"/>
<ellipse cx="305.80" cy="1142.50" rx="4.1" ry="4.0" fill="#000"/>
<path d="M347.50 1004.50V1177.50M343.30 1004.50H351.70M343.30 1177.50H351.70" stroke="#3c3c3c" stroke-width="1.0" fill="none"/>
<ellipse cx="347.00" cy="1095.90" rx="4.1" ry="4.0" fill="#000"/>
<path d="M429.50 1133.50V1155.50M425.30 1133.50H433.70M425.30 1155.50H433.70" stroke="#3c3c3c" stroke-width="1.0" fill="none"/>
<ellipse cx="429.20" cy="1144.30" rx="4.1" ry="4.0" fill="#000"/>
<path d="M594.50 1122.50V1162.50M590.30 1122.50H598.70M590.30 1162.50H598.70" stroke="#3c3c3c" stroke-width="1.0" fill="none"/>
<ellipse cx="594.40" cy="1142.70" rx="4.1" ry="4.0" fill="#000"/>
<path d="M97.0 987.9V1177.0" stroke="#000" stroke-width="1.9" fill="none"/>
<path d="M96.1 1177.0H254.5M268.2 1177.0H636.8" stroke="#000" stroke-width="2.1" fill="none"/>
<path d="M88.8 1177.00H97.0" stroke="#000" stroke-width="1.9"/>
<text transform="translate(86.40 1181.50) scale(1.1 1)" font-size="12.6" font-weight="bold" text-anchor="end" fill="#000" >0</text>
<path d="M88.8 1114.33H97.0" stroke="#000" stroke-width="1.9"/>
<text transform="translate(86.40 1118.83) scale(1.1 1)" font-size="12.6" font-weight="bold" text-anchor="end" fill="#000" >50</text>
<path d="M88.8 1051.65H97.0" stroke="#000" stroke-width="1.9"/>
<text transform="translate(86.40 1056.15) scale(1.1 1)" font-size="12.6" font-weight="bold" text-anchor="end" fill="#000" >100</text>
<path d="M88.8 988.98H97.0" stroke="#000" stroke-width="1.9"/>
<text transform="translate(86.40 993.48) scale(1.1 1)" font-size="12.6" font-weight="bold" text-anchor="end" fill="#000" >150</text>
<rect x="96.1" y="1177.0" width="5.2" height="8.2" fill="#000"/>
<path d="M112.7 1177.0V1185.2" stroke="#000" stroke-width="1.6"/>
<path d="M128.7 1177.0V1185.2" stroke="#000" stroke-width="1.6"/>
<path d="M253.8 1172.8V1184.6" stroke="#000" stroke-width="1.7"/>
<path d="M269.0 1172.8V1181.4" stroke="#000" stroke-width="1.8"/>
<path d="M305.76 1177.0V1184.8" stroke="#000" stroke-width="1.7"/>
<path d="M346.96 1177.0V1184.8" stroke="#000" stroke-width="1.7"/>
<path d="M388.16 1177.0V1184.8" stroke="#000" stroke-width="1.7"/>
<path d="M429.36 1177.0V1184.8" stroke="#000" stroke-width="1.7"/>
<path d="M470.56 1177.0V1184.8" stroke="#000" stroke-width="1.7"/>
<path d="M511.76 1177.0V1184.8" stroke="#000" stroke-width="1.7"/>
<path d="M552.96 1177.0V1184.8" stroke="#000" stroke-width="1.7"/>
<path d="M594.16 1177.0V1184.8" stroke="#000" stroke-width="1.7"/>
<path d="M635.36 1177.0V1184.8" stroke="#000" stroke-width="1.7"/>
<text transform="translate(99.90 1188.60) rotate(-90)" font-size="12.6" font-weight="bold" text-anchor="end" fill="#000" >0.0</text>
<text transform="translate(116.40 1188.60) rotate(-90)" font-size="12.6" font-weight="bold" text-anchor="end" fill="#000" >0.05</text>
<text transform="translate(132.60 1188.60) rotate(-90)" font-size="12.6" font-weight="bold" text-anchor="end" fill="#000" >0.1</text>
<text transform="translate(258.00 1188.60) rotate(-90)" font-size="12.6" font-weight="bold" text-anchor="end" fill="#000" >0.5</text>
<text transform="translate(276.80 1188.60) rotate(-90)" font-size="12.6" font-weight="bold" text-anchor="end" fill="#000" >1</text>
<text transform="translate(310.36 1188.60) rotate(-90)" font-size="12.2" font-weight="bold" text-anchor="end" fill="#000" >5</text>
<text transform="translate(351.56 1188.60) rotate(-90)" font-size="12.2" font-weight="bold" text-anchor="end" fill="#000" >10</text>
<text transform="translate(392.76 1188.60) rotate(-90)" font-size="12.2" font-weight="bold" text-anchor="end" fill="#000" >15</text>
<text transform="translate(433.96 1188.60) rotate(-90)" font-size="12.2" font-weight="bold" text-anchor="end" fill="#000" >20</text>
<text transform="translate(475.16 1188.60) rotate(-90)" font-size="12.2" font-weight="bold" text-anchor="end" fill="#000" >25</text>
<text transform="translate(516.36 1188.60) rotate(-90)" font-size="12.2" font-weight="bold" text-anchor="end" fill="#000" >30</text>
<text transform="translate(557.56 1188.60) rotate(-90)" font-size="12.2" font-weight="bold" text-anchor="end" fill="#000" >35</text>
<text transform="translate(598.76 1188.60) rotate(-90)" font-size="12.2" font-weight="bold" text-anchor="end" fill="#000" >40</text>
<text transform="translate(639.96 1188.60) rotate(-90)" font-size="12.2" font-weight="bold" text-anchor="end" fill="#000" >45</text>
<text transform="translate(367.50 1229.80)" font-size="14" font-weight="bold" text-anchor="middle" fill="#111" textLength="176.00" lengthAdjust="spacingAndGlyphs" >Concentration (<tspan font-family='"Liberation Serif", serif' font-weight="normal">μ</tspan>g/\mL)</text>
<text transform="translate(50.80 1083.50) rotate(-90)" font-size="15.2" font-weight="bold" text-anchor="middle" fill="#111" >Vitality (%)</text>
</svg></body></html>
